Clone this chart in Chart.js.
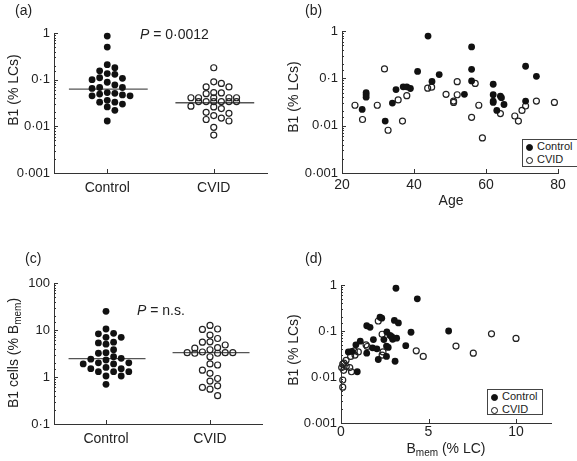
<!DOCTYPE html>
<html>
<head>
<meta charset="utf-8">
<script src="https://cdn.jsdelivr.net/npm/chart.js@4.4.0/dist/chart.umd.min.js"></script>
<style>
  body { margin: 0; background: #fff; }
  #wrap { position: relative; width: 577px; height: 461px; overflow: hidden;
    font-family: "Liberation Sans", Arial, sans-serif; color: #222; }
  #wrap canvas { position: absolute; left: 0; top: 0; }
  .t { position: absolute; font-size: 14px; line-height: 14px; white-space: nowrap; }
  .rot { transform: translate(-50%, -50%) rotate(-90deg); }
  .ctr { transform: translate(-50%, -50%); }
  .leg { position: absolute; border: 1px solid #444; background: #fff;
    font-size: 11px; line-height: 13px; padding: 0 3px; white-space: nowrap; }
  .dot { display: inline-block; width: 7px; height: 7px; border-radius: 50%;
    border: 1.2px solid #111; box-sizing: border-box; margin-right: 4px; vertical-align: -0.5px; }
  .dot.f { background: #111; }
  sub { font-size: 10px; vertical-align: -3px; line-height: 0; }
</style>
</head>
<body>
<div id="wrap">
  <canvas id="ca" width="577" height="461"></canvas>
  <canvas id="cb" width="577" height="461"></canvas>
  <canvas id="cc" width="577" height="461"></canvas>
  <canvas id="cd" width="577" height="461"></canvas>

  <div class="t" style="left:15px;top:3px">(a)</div>
  <div class="t" style="left:305px;top:3px">(b)</div>
  <div class="t" style="left:25px;top:251px">(c)</div>
  <div class="t" style="left:305px;top:251px">(d)</div>

  <div class="t" style="left:140px;top:27px"><i>P</i> = 0·0012</div>
  <div class="t" style="left:137px;top:303px"><i>P</i> = n.s.</div>

  <div class="t rot" style="left:13px;top:90px">B1 (% LCs)</div>
  <div class="t rot" style="left:293px;top:97px">B1 (% LCs)</div>
  <div class="t rot" style="left:13px;top:353px">B1 cells (% B<sub>mem</sub>)</div>
  <div class="t rot" style="left:293px;top:350px">B1 (% LCs)</div>

  <div class="t ctr" style="left:451px;top:200px">Age</div>
  <div class="t ctr" style="left:446px;top:448px">B<sub>mem</sub> (% LC)</div>

  <div class="leg" id="legb" style="left:522px;top:139px;width:52px;height:26px"></div>
  <div class="leg" id="legd" style="left:487px;top:389px;width:48px;height:24px"></div>
</div>

<script>
const categories = ['Control', 'CVID']
const seriesNames = ['Control', 'CVID']

// (a) B1 as % of lymphocytes
const aControl = [0.86, 0.5, 0.21, 0.18, 0.155, 0.135, 0.13, 0.107, 0.1, 0.11, 0.088, 0.077,
  0.068, 0.065, 0.068, 0.053, 0.049, 0.047, 0.045, 0.045, 0.051, 0.033, 0.026, 0.036,
  0.03, 0.033, 0.022, 0.013]
const aCVID = [0.18, 0.09, 0.07, 0.07, 0.083, 0.052, 0.05, 0.053, 0.041, 0.041, 0.041, 0.041,
  0.041, 0.034, 0.034, 0.034, 0.034, 0.034, 0.034, 0.026, 0.024, 0.027, 0.019, 0.017,
  0.02, 0.015, 0.013, 0.014, 0.0095, 0.0065]
const aMedians = [0.063, 0.032]

// (b) B1 against age
const bControlAge = [25.6, 26.7, 26.7, 26.7, 32, 34, 35, 37, 38, 39, 41, 43.9, 45, 47, 54,
  56, 56, 56, 62, 62, 62, 62, 63, 64, 64.3, 65, 71, 71, 74]
const bControlB1 = [0.022, 0.05, 0.045, 0.04, 0.0125, 0.03, 0.058, 0.066, 0.066, 0.061, 0.14,
  0.78, 0.086, 0.12, 0.046, 0.46, 0.155, 0.088, 0.075, 0.045, 0.033, 0.031, 0.021, 0.042,
  0.039, 0.028, 0.18, 0.033, 0.11]
const bCVIDAge = [23.6, 25.7, 29.8, 31.8, 32.8, 35.6, 36.8, 38, 43.8, 44.9, 48.9, 51, 51, 52,
  52, 56, 57, 58, 59, 64, 68, 69, 70, 71, 74, 79]
const bCVIDB1 = [0.027, 0.0135, 0.027, 0.158, 0.008, 0.035, 0.0125, 0.043, 0.062, 0.065,
  0.046, 0.033, 0.031, 0.085, 0.045, 0.015, 0.078, 0.027, 0.0055, 0.018, 0.016, 0.0125,
  0.021, 0.026, 0.033, 0.031]

// (c) B1 as % of memory B cells
const cControl = [25, 10.5, 8.5, 8.3, 7, 7, 5.5, 5.3, 5, 3.8, 3.3, 3.2, 2.7, 2.5, 2.4, 2.3,
  2, 2, 1.9, 1.9, 1.6, 1.5, 1.5, 1.3, 1.3, 1.3, 1.05, 1.05, 0.7]
const cCVID = [12.5, 10.5, 10.3, 7.8, 6.6, 5.6, 5.5, 4.8, 4.2, 4.1, 3.8, 3.4, 3.3, 3.3, 3.2,
  3.2, 3.3, 2.7, 1.9, 1.8, 1.4, 1.2, 0.93, 0.82, 0.65, 0.6, 0.55, 0.4]
const cMedians = [2.45, 3.3]

// (d) B1 against memory B cells
const dControlBmem = [3.14, 4.36, 6.15, 2.23, 2.33, 1.47, 1.66, 3.05, 3.28, 4.0, 2.62, 2.8,
  1.85, 2.9, 2.95, 3.18, 1.1, 0.85, 0.42, 0.62, 1.47, 1.8, 2.05, 2.6, 2.7, 3.7, 2.13, 2.6,
  3.09, 0.93, 2.45]
const dControlB1 = [0.85, 0.5, 0.1, 0.2, 0.19, 0.13, 0.12, 0.17, 0.15, 0.094, 0.095, 0.08,
  0.065, 0.075, 0.066, 0.07, 0.06, 0.05, 0.035, 0.036, 0.033, 0.043, 0.041, 0.047, 0.044,
  0.048, 0.024, 0.028, 0.022, 0.013, 0.065]
const dCVIDBmem = [2.13, 2.35, 1.43, 1.5, 0.76, 0.99, 0.8, 0.29, 0.1, 0.04, 0.5, 0.6, 0.1,
  0.1, 2.4, 2.35, 4.3, 4.7, 6.57, 7.56, 8.6, 10.0, 0.15, 0.17, 0.55, 0.3]
const dCVIDB1 = [0.165, 0.085, 0.05, 0.046, 0.037, 0.035, 0.03, 0.023, 0.019, 0.016, 0.016,
  0.013, 0.0086, 0.006, 0.035, 0.03, 0.037, 0.028, 0.047, 0.033, 0.087, 0.069, 0.014, 0.02,
  0.028, 0.017]

// tick labels
const b1Ticks = [0.001, 0.01, 0.1, 1]
const cellTicks = [0.1, 1, 10, 100]
const ageTicks = [20, 40, 60, 80]
const bmemTicks = [0, 5, 10]

Chart.defaults.font.family = '"Liberation Sans", Arial, sans-serif'
Chart.defaults.color = '#222'

const isPow10 = v => Math.abs(Math.log10(v) - Math.round(Math.log10(v))) < 1e-6
const dotLabel = v => String(v).replace('.', '·')

// dot plot spreading: dots sit in fixed columns either side of the category,
// nearest free column first; when all 7 columns are crowded, overlap where there is most room
function swarm(values, pxPerDecade, pxPerUnit) {
  const step = 7.6
  const gap = 6.6
  const cols = [0, 1, -1, 2, -2, 3, -3]
  const placed = []
  const offs = new Array(values.length).fill(0)
  const order = values.map((v, i) => i).sort((a, b) => values[b] - values[a])
  order.forEach(i => {
    const y = Math.log10(values[i]) * pxPerDecade
    const room = c => Math.min(Infinity, ...placed.filter(p => p[0] === c).map(p => Math.abs(p[1] - y)))
    let col = cols.find(c => room(c) >= gap)
    if (col === undefined) col = cols.reduce((b, c) => (room(c) > room(b) ? c : b))
    placed.push([col, y])
    offs[i] = col * step / pxPerUnit
  })
  return offs
}

const filled = { backgroundColor: '#111', borderColor: '#111', borderWidth: 0, pointRadius: 3.4, clip: false }
const open = { backgroundColor: 'rgba(0,0,0,0)', borderColor: '#222', borderWidth: 1.2, pointRadius: 3, clip: false }

function dotSeries(values, idx, pxPerDecade, pxPerUnit, style) {
  const offs = swarm(values, pxPerDecade, pxPerUnit)
  return { ...style, data: values.map((v, i) => ({ x: idx + offs[i], y: v })) }
}

function medianLine(m, idx) {
  return {
    type: 'line', data: [{ x: idx - 0.36, y: m }, { x: idx + 0.38, y: m }],
    borderColor: '#555', borderWidth: 1.3, pointRadius: 0, order: 5
  }
}

function pairs(xs, ys) {
  return xs.map((x, i) => ({ x: x, y: ys[i] }))
}

const inwardTicks = {
  id: 'inwardTicks',
  afterDatasetsDraw(chart) {
    const { ctx, chartArea: a, scales: { x, y } } = chart
    ctx.save()
    ctx.strokeStyle = '#333'
    ctx.lineWidth = 1
    ctx.beginPath()
    y.ticks.forEach(t => {
      const py = Math.round(y.getPixelForValue(t.value)) + 0.5
      const len = isPow10(t.value) ? 4 : 2
      ctx.moveTo(a.left, py)
      ctx.lineTo(a.left + len, py)
    })
    x.ticks.forEach(t => {
      const px = Math.round(x.getPixelForValue(t.value)) + 0.5
      ctx.moveTo(px, a.bottom)
      ctx.lineTo(px, a.bottom - 4)
    })
    ctx.stroke()
    ctx.restore()
  }
}

function axisBase(extra) {
  return Object.assign({
    border: { color: '#333', width: 1 },
    grid: { display: false, drawTicks: false }
  }, extra)
}

function logY(min, max, majors) {
  return axisBase({
    type: 'logarithmic', min: min, max: max,
    ticks: {
      autoSkip: false, padding: 4, font: { size: 13 },
      callback: v => (isPow10(v) && majors.some(m => Math.abs(m - v) / m < 1e-6) ? dotLabel(v) : '')
    },
    afterFit: s => { s.width = 52 }
  })
}

function linX(min, max, tickVals, labels, pad) {
  return axisBase({
    type: 'linear', min: min, max: max,
    afterBuildTicks: s => { s.ticks = tickVals.map(v => ({ value: v })) },
    ticks: {
      autoSkip: false, maxRotation: 0, padding: pad, font: { size: 14 },
      callback: v => (labels ? labels[v] : String(v))
    },
    afterFit: s => { s.height = 30 }
  })
}

function panel(id, box, x, y, datasets) {
  return new Chart(document.getElementById(id), {
    type: 'scatter',
    data: { datasets: datasets },
    options: {
      responsive: false,
      animation: false,
      events: [],
      layout: {
        padding: { left: box.left - 52, top: box.top, right: 577 - box.right, bottom: 461 - box.bottom - 30 }
      },
      plugins: { legend: { display: false }, tooltip: { enabled: false } },
      scales: { x: x, y: y }
    },
    plugins: [inwardTicks]
  })
}

// (a)
panel('ca', { left: 54, top: 33, right: 267, bottom: 173 },
  linX(-0.5, 1.5, [0, 1], categories, 7),
  logY(0.001, 1, b1Ticks),
  [
    dotSeries(aControl, 0, 46.7, 106.5, filled),
    dotSeries(aCVID, 1, 46.7, 106.5, open),
    medianLine(aMedians[0], 0),
    medianLine(aMedians[1], 1)
  ])

// (b)
panel('cb', { left: 342, top: 31, right: 558, bottom: 173 },
  linX(20, 80, ageTicks, null, 4),
  logY(0.001, 1, b1Ticks),
  [
    { ...filled, label: seriesNames[0], data: pairs(bControlAge, bControlB1) },
    { ...open, label: seriesNames[1], data: pairs(bCVIDAge, bCVIDB1) }
  ])

// (c)
panel('cc', { left: 54, top: 283, right: 262, bottom: 424 },
  linX(-0.5, 1.5, [0, 1], categories, 7),
  logY(0.1, 100, cellTicks),
  [
    dotSeries(cControl, 0, 47, 104, filled),
    dotSeries(cCVID, 1, 47, 104, open),
    medianLine(cMedians[0], 0),
    medianLine(cMedians[1], 1)
  ])

// (d)
panel('cd', { left: 341, top: 285, right: 551, bottom: 423 },
  linX(0, 12, bmemTicks, null, 1),
  logY(0.001, 1, b1Ticks),
  [
    { ...filled, label: seriesNames[0], data: pairs(dControlBmem, dControlB1) },
    { ...open, label: seriesNames[1], data: pairs(dCVIDBmem, dCVIDB1) }
  ])

// legends for (b) and (d)
function legendHtml() {
  return seriesNames.map((n, i) => '<div><span class="dot' + (i === 0 ? ' f' : '') + '"></span>' + n + '</div>').join('')
}
document.getElementById('legb').innerHTML = legendHtml()
document.getElementById('legd').innerHTML = legendHtml()
</script>
</body>
</html>
